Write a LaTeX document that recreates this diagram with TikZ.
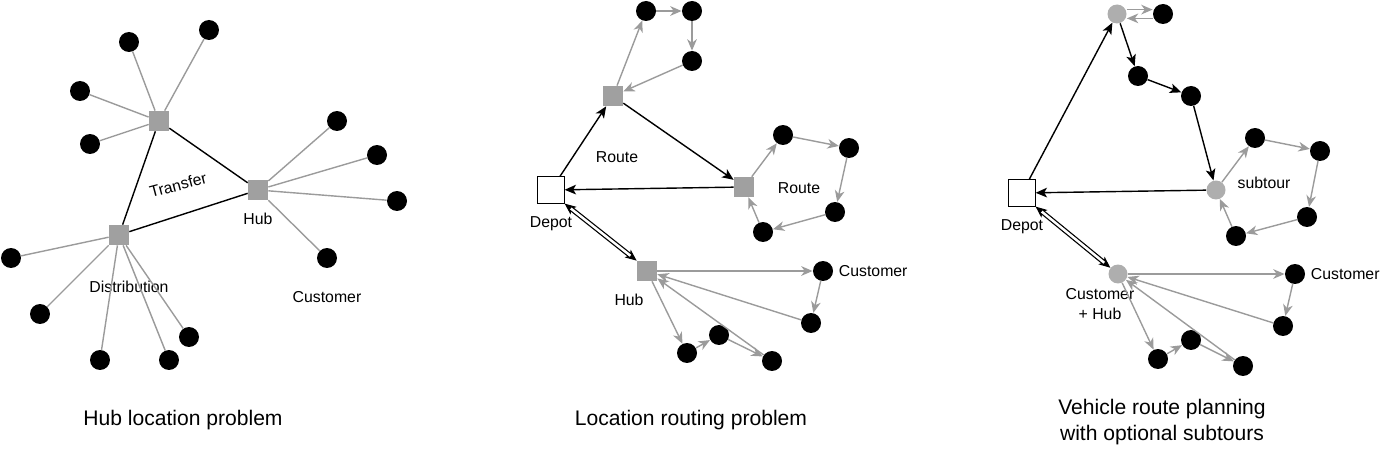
\documentclass[tikz,border=0pt]{standalone}
\usepackage{fontspec}
\setmainfont{Liberation Sans}
\usepackage{tikz}
\usetikzlibrary{positioning}
\usetikzlibrary{shapes,arrows,arrows.meta,fit}
\definecolor{boxgray}{RGB}{160,160,160}
\definecolor{linegray}{RGB}{155,155,155}
\tikzstyle{customer} = [circle, fill=black, minimum size=0.4cm, inner sep=0pt]
\tikzstyle{hubbox} = [rectangle, fill=boxgray, minimum size=0.4cm, inner sep=0pt]
\tikzstyle{hubdot} = [circle, fill=boxgray!85, minimum size=0.38cm, inner sep=0pt]
\tikzstyle{depot} = [rectangle, draw=black, fill=white, minimum size=0.53cm, inner sep=0pt]
\tikzstyle{lbl} = [font=\fontsize{9}{11}\selectfont, inner sep=1pt]
\tikzstyle{caption} = [font=\fontsize{12}{15}\selectfont, align=center]
\tikzstyle{spoke} = [draw=linegray, line width=0.8pt]
\tikzstyle{link} = [draw, line width=0.8pt]
\tikzstyle{line} = [draw, line width=0.8pt, -{Stealth[length=6.5pt, width=5.5pt, inset=1.6pt]}]
\tikzstyle{gline} = [draw=linegray, line width=0.8pt, -{Stealth[length=6.5pt, width=5.5pt, inset=2pt]}]
\tikzstyle{dline} = [draw, line width=0.7pt, {Stealth[length=6.5pt, width=5.5pt, inset=1.6pt]}-{Stealth[length=6.5pt, width=5.5pt, inset=1.6pt]},
  preaction={draw, -, line width=2.8pt, shorten <=4pt, shorten >=4pt},
  postaction={draw=white, -, line width=1.4pt, shorten <=4.5pt, shorten >=4.5pt}]

\begin{document}
\begin{tikzpicture}[x=0.02cm, y=-0.02cm]
			\useasboundingbox (0,0) rectangle (1386,449);
			% Hub location problem
			\node [hubbox] (trans) at (159,121) {};
			\node [hubbox] (hub) at (258,190) {};
			\node [hubbox] (dist) at (119,235) {};
			\node [customer] (t1) at (129,42) {};
			\node [customer] (t2) at (209,30) {};
			\node [customer] (t3) at (80,91) {};
			\node [customer] (t4) at (90,144) {};
			\node [customer] (h1) at (337,121) {};
			\node [customer] (h2) at (377,155) {};
			\node [customer] (h3) at (397,201) {};
			\node [customer] (h4) at (327,258) {};
			\node [customer] (d1) at (11,258) {};
			\node [customer] (d2) at (40,314) {};
			\node [customer] (d3) at (100,360) {};
			\node [customer] (d4) at (169,360) {};
			\node [customer] (d5) at (189,337) {};
			\node [lbl, rotate=15] (transfer) at (178,185) {Transfer};
			\node [lbl, below=6pt of hub] (hublbl) {Hub};
			\node [lbl] (distlbl) at (129,287) {Distribution};
			\node [lbl, below=12pt of h4] (custlbl) {Customer};
			\node [caption] (title1) at (183,420) {Hub location problem};
			\foreach \c in {t1,t2,t3,t4} \path [spoke] (trans) -- (\c);
			\foreach \c in {h1,h2,h3,h4} \path [spoke] (hub) -- (\c);
			\foreach \c in {d1,d2,d3,d4,d5} \path [spoke] (dist) -- (\c);
			\path [link] (trans) -- (hub);
			\path [link] (trans) -- (dist);
			\path [link] (dist) -- (hub);

			% Location routing problem
			\node [depot] (depotA) at (551,190) {};
			\node [hubbox] (routeA) at (613,96) {};
			\node [hubbox] (routeB) at (744,187) {};
			\node [hubbox] (hubA) at (647,271) {};
			\node [customer] (a1) at (646,11) {};
			\node [customer] (a2) at (692,11) {};
			\node [customer] (a3) at (692,61) {};
			\node [customer] (b1) at (783,135) {};
			\node [customer] (b2) at (849,148) {};
			\node [customer] (b3) at (835,212) {};
			\node [customer] (b4) at (763,232) {};
			\node [customer] (c1) at (823,271) {};
			\node [customer] (c2) at (811,323) {};
			\node [customer] (c3) at (687,353) {};
			\node [customer] (c4) at (719,335) {};
			\node [customer] (c5) at (772,361) {};
			\node [lbl] (routeAlbl) at (617,157) {Route};
			\node [lbl] (routeBlbl) at (799,188) {Route};
			\node [lbl, below=6pt of depotA] (depotAlbl) {Depot};
			\node [lbl] (hubAlbl) at (629,300) {Hub};
			\node [lbl, right=2pt of c1] (custAlbl) {Customer};
			\node [caption] (title2) at (691,420) {Location routing problem};
			\path [line] (depotA) -- (routeA);
			\path [line] (routeA) -- (routeB);
			\path [line] (routeB) -- (depotA);
			\path [dline] (depotA.south east) -- (hubA.north west);
			\path [gline] (routeA) -- (a1);
			\path [gline] (a1) -- (a2);
			\path [gline] (a2) -- (a3);
			\path [gline] (a3) -- (routeA);
			\path [gline] (routeB) -- (b1);
			\path [gline] (b1) -- (b2);
			\path [gline] (b2) -- (b3);
			\path [gline] (b3) -- (b4);
			\path [gline] (b4) -- (routeB);
			\path [gline] (hubA) -- (c1);
			\path [gline] (c1) -- (c2);
			\path [gline] (c2) -- (hubA);
			\path [gline] (hubA) -- (c3);
			\path [gline] (c3) -- (c4);
			\path [gline] (c4) -- (c5);
			\path [gline] (c5) -- (hubA);

			% Vehicle route planning with optional subtours
			\node [depot] (depotB) at (1022,193) {};
			\node [hubdot] (g1) at (1117,14) {};
			\node [hubdot] (g2) at (1216,190) {};
			\node [hubdot] (g3) at (1118,274) {};
			\node [customer] (e1) at (1163,14) {};
			\node [customer] (f1) at (1138,76) {};
			\node [customer] (f2) at (1191,96) {};
			\node [customer] (s1) at (1255,138) {};
			\node [customer] (s2) at (1320,151) {};
			\node [customer] (s3) at (1307,217) {};
			\node [customer] (s4) at (1236,236) {};
			\node [customer] (k1) at (1295,274) {};
			\node [customer] (k2) at (1283,326) {};
			\node [customer] (k3) at (1158,359) {};
			\node [customer] (k4) at (1191,340) {};
			\node [customer] (k5) at (1243,366) {};
			\node [lbl] (subtour) at (1264,183) {subtour};
			\node [lbl, below=6pt of depotB] (depotBlbl) {Depot};
			\node [lbl, align=center] (custhub) at (1100,304) {Customer\\+ Hub};
			\node [lbl, right=2pt of k1] (custBlbl) {Customer};
			\node [caption] (title3) at (1162,422) {Vehicle route planning\\with optional subtours};
			\path [line] (depotB) -- (g1);
			\path [gline] ([yshift=2.5pt]g1.east) -- ([yshift=2.5pt]e1.west);
			\path [gline] ([yshift=-2.5pt]e1.west) -- ([yshift=-2.5pt]g1.east);
			\path [line] (g1) -- (f1);
			\path [line] (f1) -- (f2);
			\path [line] (f2) -- (g2);
			\path [line] (g2) -- (depotB);
			\path [dline] (depotB.south east) -- (g3);
			\path [gline] (g2) -- (s1);
			\path [gline] (s1) -- (s2);
			\path [gline] (s2) -- (s3);
			\path [gline] (s3) -- (s4);
			\path [gline] (s4) -- (g2);
			\path [gline] (g3) -- (k1);
			\path [gline] (k1) -- (k2);
			\path [gline] (k2) -- (g3);
			\path [gline] (g3) -- (k3);
			\path [gline] (k3) -- (k4);
			\path [gline] (k4) -- (k5);
			\path [gline] (k5) -- (g3);
\end{tikzpicture}
\end{document}
